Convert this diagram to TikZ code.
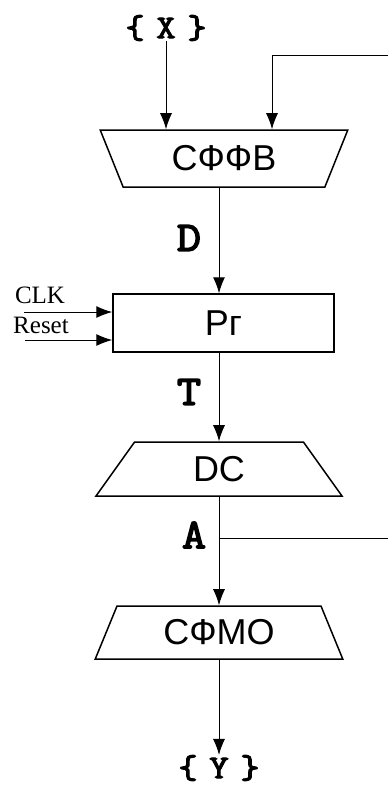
\documentclass[tikz,border=0pt]{standalone}
\usepackage{fontspec}
\setmainfont{Liberation Sans}
\newfontfamily\tmsfont{Liberation Serif}
\newfontfamily\courb{Latin Modern Mono}[FakeBold=3.5,FakeStretch=1.12]
\usetikzlibrary{arrows.meta,shapes.geometric}
\tikzset{
  box/.style={draw, line width=1.5pt, inner sep=0pt, font=\fontsize{36}{40}\selectfont},
  trapdown/.style={box, trapezium, trapezium stretches, trapezium left angle=65, trapezium right angle=65},
  trapup/.style={trapdown, shape border rotate=180},
  arr/.style={line width=1pt, -{Latex[length=16pt,width=12pt]}},
  wire/.style={line width=1pt},
  bus/.style={font=\courb\fontsize{42}{44}\selectfont, inner sep=0pt},
  set/.style={font=\courb\fontsize{33}{36}\selectfont, inner sep=0pt},
  sig/.style={font=\tmsfont\fontsize{25}{27}\selectfont, inner sep=0pt, anchor=base}
}
\begin{document}
\begin{tikzpicture}[x=1pt,y=-1pt]
\useasboundingbox (0,0) rectangle (388,790);
% shapes
\node[trapup, minimum width=248pt, minimum height=57pt] (sffv) at (224,158.5) {СФФВ};
\node[box, minimum width=221pt, minimum height=58pt] (pr) at (223.5,323) {Рг};
\node[trapdown, minimum width=248pt, minimum height=54pt] (dc) at (219,469) {DC};
\node[trapdown, minimum width=248pt, minimum height=53pt] (sfmo) at (219,632.5) {СФМО};
% inputs / outputs
\node[set] (x) at (166,28) {\{\kern12pt X\kern12pt\}};
\node[set] (y) at (219,768) {\{\kern12pt Y\kern12pt\}};
\node[bus] (d) at (189,238) {D};
\node[bus] (t) at (189,392) {T};
\node[bus] (a) at (194,535) {A};
\node[sig] (clk) at (40,303) {CLK};
\node[sig] (rst) at (41,333) {Reset};
% free ends
\coordinate (fbin) at (388,55);
\coordinate (fbturn) at (272,55);
\coordinate (fbout) at (388,538);
\coordinate (clkin) at (24,312);
\coordinate (rstin) at (25,340);
\coordinate (tap) at (219,538);
% connectors
\draw[arr] (x.south) -- (x.south |- sffv.north);
\draw[arr] (fbin) -- (fbturn) -- (fbturn |- sffv.north);
\draw[arr] (sffv.south -| y) -- (pr.north -| y);
\draw[arr] (clkin) -- (clkin -| pr.west);
\draw[arr] (rstin) -- (rstin -| pr.west);
\draw[arr] (pr.south -| y) -- (dc.north -| y);
\draw[arr] (dc.south -| y) -- (sfmo.north -| y);
\draw[wire] (tap) -- (fbout);
\draw[arr] (sfmo.south -| y) -- (y.north);
\end{tikzpicture}
\end{document}
